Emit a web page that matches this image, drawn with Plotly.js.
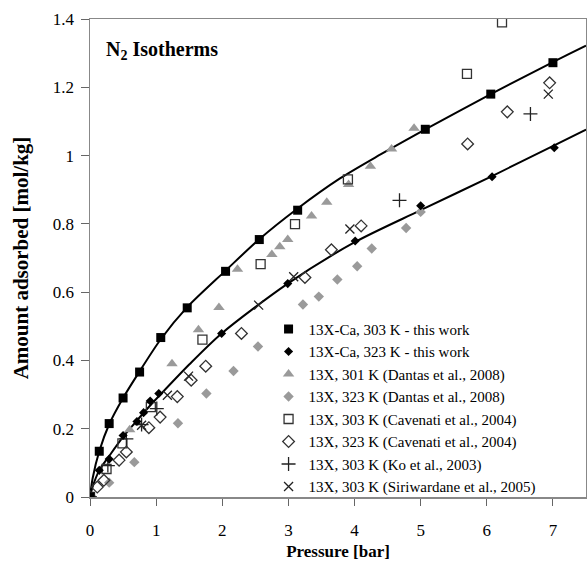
<!DOCTYPE html>
<html>
<head>
<meta charset="utf-8">
<script src="https://cdn.plot.ly/plotly-3.0.1.min.js"></script>
<style>html,body{margin:0;padding:0;background:#fff;}#chart{width:587px;height:564px;}</style>
</head>
<body>
<div id="chart"></div>
<script>
// 13X-Ca, 303 K - this work
const caX303 = [0, 0.14, 0.29, 0.50, 0.75, 1.07, 1.47, 2.05, 2.56, 3.14, 5.07, 6.06, 7.00];
const caY303 = [0, 0.134, 0.215, 0.290, 0.366, 0.467, 0.554, 0.661, 0.754, 0.840, 1.077, 1.180, 1.272];
// 13X-Ca, 323 K - this work
const caX323 = [0, 0.14, 0.29, 0.50, 0.71, 0.81, 0.91, 1.04, 1.99, 2.99, 4.01, 5.00, 6.08, 7.02];
const caY323 = [0, 0.078, 0.111, 0.180, 0.221, 0.247, 0.281, 0.303, 0.479, 0.625, 0.750, 0.853, 0.938, 1.023];
// fitted curves
const fitX303 = [0, 0.04, 0.14, 0.29, 0.50, 0.75, 1.07, 1.47, 2.05, 2.56, 3.14, 3.78, 4.40, 5.07, 6.06, 7.00, 7.50];
const fitY303 = [0, 0.055, 0.134, 0.213, 0.290, 0.368, 0.462, 0.556, 0.663, 0.755, 0.845, 0.933, 1.004, 1.077, 1.180, 1.274, 1.322];
const fitX323 = [0, 0.04, 0.14, 0.29, 0.50, 0.71, 0.91, 1.04, 1.50, 1.99, 2.99, 4.01, 5.00, 6.08, 7.02, 7.50];
const fitY323 = [0, 0.030, 0.078, 0.120, 0.176, 0.224, 0.268, 0.295, 0.388, 0.479, 0.625, 0.747, 0.840, 0.940, 1.030, 1.076];
// 13X, 301 K (Dantas et al., 2008)
const dan301X = [0, 0.60, 1.24, 1.64, 1.95, 2.23, 2.75, 2.87, 2.99, 3.35, 3.58, 3.91, 4.24, 4.56, 4.90];
const dan301Y = [0, 0.197, 0.390, 0.490, 0.555, 0.667, 0.710, 0.733, 0.754, 0.823, 0.863, 0.915, 0.969, 1.019, 1.080];
// 13X, 323 K (Dantas et al., 2008)
const dan323X = [0, 0.29, 0.67, 1.33, 1.76, 2.17, 2.54, 3.22, 3.46, 3.74, 4.04, 4.26, 4.78, 5.00];
const dan323Y = [0, 0.042, 0.102, 0.216, 0.303, 0.369, 0.441, 0.564, 0.587, 0.637, 0.676, 0.728, 0.788, 0.835];
// 13X, 303 K (Cavenati et al., 2004)
const cav303X = [0, 0.25, 0.49, 0.92, 1.70, 2.58, 3.10, 3.90, 5.70, 6.23];
const cav303Y = [0, 0.082, 0.157, 0.263, 0.461, 0.682, 0.799, 0.930, 1.239, 1.390];
// 13X, 323 K (Cavenati et al., 2004)
const cav323X = [0, 0.11, 0.21, 0.44, 0.55, 0.89, 1.06, 1.32, 1.53, 1.75, 2.29, 3.25, 3.65, 4.10, 5.71, 6.31, 6.95];
const cav323Y = [0, 0.029, 0.049, 0.108, 0.132, 0.203, 0.234, 0.294, 0.342, 0.383, 0.479, 0.643, 0.724, 0.794, 1.034, 1.128, 1.213];
// 13X, 303 K (Ko et al., 2003)
const koX = [0, 0.27, 0.55, 0.78, 1.01, 4.68, 6.66];
const koY = [0, 0.092, 0.170, 0.212, 0.259, 0.869, 1.122];
// 13X, 303 K (Siriwardane et al., 2005)
const siriX = [0, 0.78, 1.17, 1.49, 2.55, 3.08, 3.93, 6.93];
const siriY = [0, 0.210, 0.298, 0.354, 0.562, 0.645, 0.785, 1.180];

const names = [
  '13X-Ca, 303 K - this work',
  '13X-Ca, 323 K - this work',
  '13X, 301 K (Dantas et al., 2008)',
  '13X, 323 K (Dantas et al., 2008)',
  '13X, 303 K (Cavenati et al., 2004)',
  '13X, 323 K (Cavenati et al., 2004)',
  '13X, 303 K (Ko et al., 2003)',
  '13X, 303 K (Siriwardane et al., 2005)'
];

const gray = '#9a9a9a';
const serif = 'Liberation Serif, Times New Roman, serif';

const traces = [
  {x: fitX303, y: fitY303, mode: 'lines', line: {color: '#000', width: 2, shape: 'spline', smoothing: 0.8}, showlegend: false, hoverinfo: 'skip'},
  {x: fitX323, y: fitY323, mode: 'lines', line: {color: '#000', width: 2, shape: 'spline', smoothing: 0.8}, showlegend: false, hoverinfo: 'skip'},
  {x: dan301X, y: dan301Y, mode: 'markers', name: names[2], legendrank: 3, marker: {symbol: 'triangle-up', size: 10, color: gray}},
  {x: dan323X, y: dan323Y, mode: 'markers', name: names[3], legendrank: 4, marker: {symbol: 'diamond', size: 8, color: gray}},
  {x: cav303X, y: cav303Y, mode: 'markers', name: names[4], legendrank: 5, marker: {symbol: 'square-open', size: 9, color: '#333', line: {width: 1.3}}},
  {x: cav323X, y: cav323Y, mode: 'markers', name: names[5], legendrank: 6, marker: {symbol: 'diamond-open', size: 9, color: '#333', line: {width: 1.3}}},
  {x: koX, y: koY, mode: 'markers', name: names[6], legendrank: 7, marker: {symbol: 'cross-thin-open', size: 10, color: '#222', line: {width: 1.3}}},
  {x: siriX, y: siriY, mode: 'markers', name: names[7], legendrank: 8, marker: {symbol: 'x-thin-open', size: 9, color: '#222', line: {width: 1.3}}},
  {x: caX303, y: caY303, mode: 'markers', name: names[0], legendrank: 1, marker: {symbol: 'square', size: 9, color: '#000'}},
  {x: caX323, y: caY323, mode: 'markers', name: names[1], legendrank: 2, marker: {symbol: 'diamond', size: 7, color: '#000'}}
];

const layout = {
  width: 587, height: 564,
  margin: {l: 90, r: 1, t: 19, b: 67},
  paper_bgcolor: '#fff', plot_bgcolor: '#fff',
  font: {family: serif, color: '#000', size: 16},
  showlegend: true,
  legend: {
    x: 0.36, xanchor: 'left', y: -0.012, yanchor: 'bottom',
    bgcolor: 'rgba(255,255,255,0)', borderwidth: 0,
    font: {family: serif, size: 15, color: '#000'},
    itemwidth: 30
  },
  xaxis: {
    range: [0, 7.5], dtick: 1, tick0: 0,
    showgrid: false, zeroline: false,
    showline: true, linecolor: '#888', linewidth: 1.5, mirror: true,
    ticks: 'outside', ticklen: 7, tickcolor: '#666', tickwidth: 1,
    ticklabelstandoff: 10,
    tickfont: {family: serif, size: 17},
    title: {text: '<b>Pressure [bar]</b>', font: {family: serif, size: 17}, standoff: 6}
  },
  yaxis: {
    range: [0, 1.4], dtick: 0.2, tick0: 0,
    showgrid: false, zeroline: false,
    showline: true, linecolor: '#888', linewidth: 1.5, mirror: true,
    ticks: 'outside', ticklen: 8, tickcolor: '#666', tickwidth: 1,
    ticklabelstandoff: 3,
    tickfont: {family: serif, size: 17},
    title: {text: '<b>Amount adsorbed [mol/kg]</b>', font: {family: serif, size: 21}, standoff: 18}
  },
  annotations: [{
    xref: 'paper', yref: 'paper', x: 0.028, y: 0.935, xanchor: 'left', yanchor: 'middle',
    text: '<b>N<sub>2</sub> Isotherms</b>', showarrow: false,
    font: {family: serif, size: 20, color: '#000'}
  }]
};

Plotly.newPlot('chart', traces, layout, {displayModeBar: false, staticPlot: true});
</script>
</body>
</html>
